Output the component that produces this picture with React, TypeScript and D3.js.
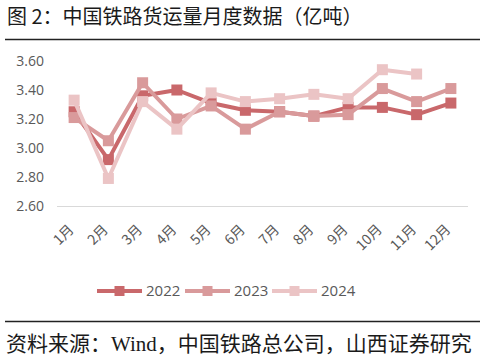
import React from "react";
import * as d3 from "d3";

const months = ["1月","2月","3月","4月","5月","6月","7月","8月","9月","10月","11月","12月"];
const s2022 = [3.25, 2.92, 3.36, 3.40, 3.31, 3.26, 3.25, 3.22, 3.28, 3.28, 3.23, 3.31];
const s2023 = [3.21, 3.05, 3.45, 3.20, 3.29, 3.13, 3.25, 3.22, 3.23, 3.41, 3.32, 3.41];
const s2024 = [3.33, 2.79, 3.32, 3.13, 3.38, 3.32, 3.34, 3.37, 3.34, 3.54, 3.51];
const yTicks = [2.6, 2.8, 3.0, 3.2, 3.4, 3.6];
const seriesNames = ["2022", "2023", "2024"];
const seriesColors = ["#c9686b", "#d99a9b", "#ebc4c5"];

export default function App() {
  const W = 485, H = 361;
  const x = d3.scaleBand<string>().domain(months).range([57, 468]);
  const y = d3.scaleLinear().domain([2.6, 3.6]).range([206, 61]);
  const data = [s2022, s2023, s2024];
  const line = d3.line<number>()
    .x((_, i) => (x(months[i]) as number) + x.bandwidth() / 2)
    .y((d) => y(d));
  const ms = 11;
  const legendX = [97, 185, 272];
  const cjk = "'Noto Sans CJK SC', sans-serif";
  return (
    <svg width={W} height={H} style={{ position: "absolute", left: 0, top: 0, background: "#fff" }}>
      <text x={7} y={24} fontSize={20} fill="#1a1a1a" fontFamily={cjk}>图 2：中国铁路货运量月度数据（亿吨）</text>
      <line x1={5} x2={480} y1={39.5} y2={39.5} stroke="#222" strokeWidth={1.3} />
      {yTicks.map((t) => (
        <text key={t} x={44} y={y(t)} dy="0.35em" textAnchor="end" fontSize={14}
          fill="#595959" fontFamily="'Open Sans', sans-serif">{t.toFixed(2)}</text>
      ))}
      <line x1={57} x2={468} y1={206.5} y2={206.5} stroke="#d9d9d9" strokeWidth={1} />
      {months.map((m) => {
        const cx = (x(m) as number) + x.bandwidth() / 2;
        return (
          <text key={m} transform={`translate(${cx - 3},${227}) rotate(-45)`} textAnchor="end"
            dy="0.35em" fontSize={14} fill="#595959" fontFamily={cjk}>{m}</text>
        );
      })}
      {data.map((s, k) => (
        <g key={k}>
          <path d={line(s) || ""} fill="none" stroke={seriesColors[k]} strokeWidth={4} strokeLinejoin="round" />
          {s.map((v, i) => (
            <rect key={i} x={(x(months[i]) as number) + x.bandwidth() / 2 - ms / 2} y={y(v) - ms / 2}
              width={ms} height={ms} fill={seriesColors[k]} />
          ))}
        </g>
      ))}
      {seriesNames.map((n, k) => (
        <g key={n}>
          <line x1={legendX[k]} x2={legendX[k] + 45} y1={291} y2={291} stroke={seriesColors[k]} strokeWidth={4} />
          <rect x={legendX[k] + 22.5 - 5} y={286} width={10} height={10} fill={seriesColors[k]} />
          <text x={legendX[k] + 49} y={291} dy="0.35em" fontSize={15} fill="#595959"
            fontFamily="'Open Sans', sans-serif">{n}</text>
        </g>
      ))}
      <line x1={5} x2={480} y1={321.5} y2={321.5} stroke="#222" strokeWidth={1.3} />
      <text x={6} y={351} fontSize={21} fill="#1a1a1a" fontFamily={`'Liberation Serif', ${cjk}`}>资料来源：Wind，中国铁路总公司，山西证券研究</text>
    </svg>
  );
}
